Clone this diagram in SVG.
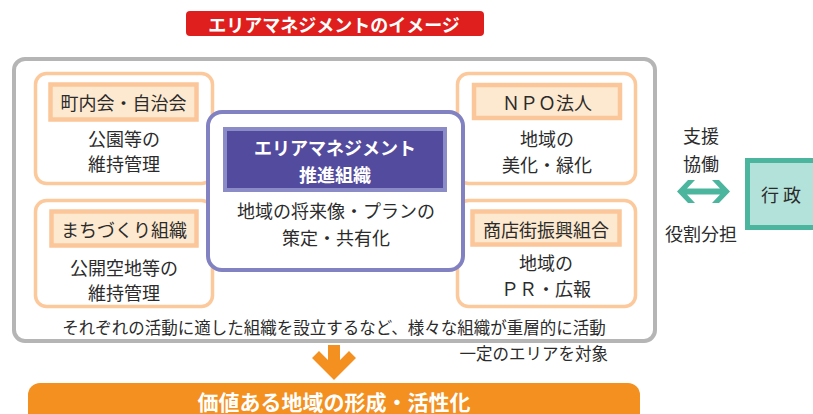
<svg xmlns="http://www.w3.org/2000/svg" width="813" height="414" viewBox="0 0 813 414">
<style>
text{font-family:"Noto Sans CJK JP","Noto Sans CJK SC",sans-serif;dominant-baseline:central;text-anchor:middle;fill:#2b2b2b;font-size:18px}
.w{fill:#fff;font-weight:bold}
.org{fill:#fff;stroke:#fcc99c;stroke-width:3.5}
.lab{fill:#fde9cf;stroke:#fbc699;stroke-width:4.5}
.sm{font-size:16.5px}
</style>
<rect width="813" height="414" fill="#fff"/>
<g id="title">
<rect x="186" y="11" width="298" height="25" rx="4" fill="#de1f1d"/>
<text x="334" y="23.5" class="w">エリアマネジメントのイメージ</text>
</g>
<g id="frame">
<rect x="14" y="59" width="641" height="282" rx="11" fill="none" stroke="#b5b5b5" stroke-width="4"/>
<text x="334" y="327" class="sm">それぞれの活動に適した組織を設立するなど、様々な組織が重層的に活動</text>
<text x="608" y="353" class="sm" style="text-anchor:end">一定のエリアを対象</text>
</g>
<g id="chonaikai">
<rect class="org" x="35.5" y="73.5" width="177" height="110" rx="11"/>
<rect class="lab" x="50.5" y="84.5" width="146" height="35"/>
<text x="123.5" y="102">町内会・自治会</text>
<text x="124" y="138">公園等の</text>
<text x="124" y="163">維持管理</text>
</g>
<g id="machizukuri">
<rect class="org" x="35.5" y="200.5" width="177" height="106" rx="11"/>
<rect class="lab" x="51.5" y="211.5" width="145" height="34"/>
<text x="124" y="229">まちづくり組織</text>
<text x="124" y="267">公開空地等の</text>
<text x="124" y="292">維持管理</text>
</g>
<g id="npo">
<rect class="org" x="457.5" y="73.5" width="178" height="110" rx="11"/>
<rect class="lab" x="474" y="85" width="146" height="33"/>
<text x="547" y="102">ＮＰＯ法人</text>
<text x="547" y="138">地域の</text>
<text x="547" y="164">美化・緑化</text>
</g>
<g id="shotengai">
<rect class="org" x="457.5" y="200.5" width="178" height="106" rx="11"/>
<rect class="lab" x="472.5" y="211.5" width="147" height="33"/>
<text x="546" y="229">商店街振興組合</text>
<text x="546" y="262">地域の</text>
<text x="546" y="288">ＰＲ・広報</text>
</g>
<g id="center">
<rect x="208" y="112" width="255" height="158" rx="14" fill="#fff" stroke="#8282c2" stroke-width="4"/>
<rect x="225" y="129" width="220" height="61" fill="#534b9d" stroke="#8b8bc8" stroke-width="4"/>
<text x="335" y="147" class="w">エリアマネジメント</text>
<text x="335" y="174" class="w">推進組織</text>
<text x="336" y="210">地域の将来像・プランの</text>
<text x="336" y="237">策定・共有化</text>
</g>
<g id="gyosei">
<rect x="747.5" y="160.5" width="80" height="67" fill="#b3e2da" stroke="#4cb59e" stroke-width="5"/>
<text x="781" y="194">行 政</text>
</g>
<g id="result">
<rect x="28" y="383" width="612" height="50" rx="12" fill="#f39020"/>
<text x="334" y="400.5" class="w" style="font-size:21px">価値ある地域の形成・活性化</text>
</g>
<g id="connectors">
<polygon points="328,345 340,345 340,360 349,351 356,358 334,380 312,358 319,351 328,360" fill="#f39020"/>
<polygon points="677,191.5 688,180 695,180 687,188.5 720,188.5 712,180 719,180 730,191.5 719,203 712,203 720,194.5 687,194.5 695,203 688,203" fill="#4cb59e"/>
<text x="701" y="135">支援</text>
<text x="701" y="163">協働</text>
<text x="701" y="233">役割分担</text>
</g>
</svg>
